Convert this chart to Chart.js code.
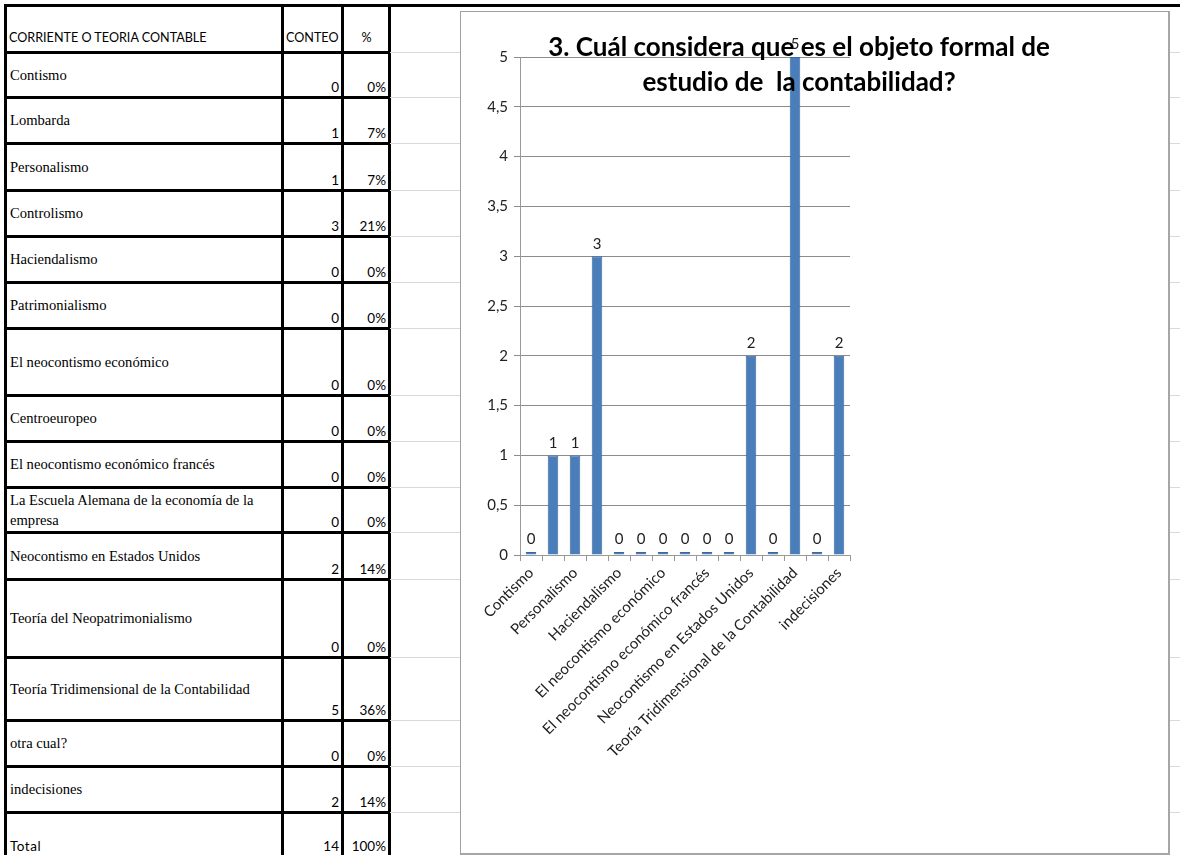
<!DOCTYPE html>
<html>
<head>
<meta charset="utf-8">
<script src="https://cdn.jsdelivr.net/npm/chart.js@4.4.1/dist/chart.umd.min.js"></script>
<style>
  body { margin: 0; width: 1180px; height: 855px; overflow: hidden; background: #fff; position: relative; font-family: Lato, sans-serif; }
  #topline { position: absolute; left: 4px; top: 4px; width: 1176px; height: 3px; background: #000; }
  .gl { position: absolute; left: 390px; width: 790px; height: 1px; background: #d9d9d9; }
  #sheet { position: absolute; left: 4px; top: 4px; width: 384px; border-collapse: collapse; table-layout: fixed; }
  #sheet td { border: 3px solid #000; padding: 0 2px 1px 3px; overflow: hidden; white-space: normal; }
  #sheet td.name { font-family: "Liberation Serif", serif; font-size: 14.6px; vertical-align: middle; line-height: 20px; }
  #sheet td.num { font-family: Lato, sans-serif; font-size: 13.5px; text-align: right; vertical-align: bottom; }
  #sheet td.head { font-family: Lato, sans-serif; font-size: 12.6px; vertical-align: bottom; padding: 0 1px 6px 2px; white-space: nowrap; }
  #sheet td.total { font-family: Lato, sans-serif; font-size: 13.5px; vertical-align: bottom; letter-spacing: 0.5px; }
  #sheet tr.last td { border-bottom: none; }
  #box { position: absolute; left: 460px; top: 11px; width: 707px; height: 841px; border: 1px solid #a0a0a0; border-right: 2px solid #a6a6a6; border-bottom: 2px solid #a6a6a6; background: #fff; }
  #title { position: absolute; left: 449px; top: 29px; width: 700px; text-align: center; font-family: Lato, sans-serif; font-weight: bold; font-size: 26px; line-height: 35px; color: #000; }
</style>
</head>
<body>
<div id="topline"></div>
<table id="sheet">
  <colgroup><col style="width:277px"><col style="width:60px"><col style="width:47px"></colgroup>
  <tbody id="sheet-body"></tbody>
</table>
<div id="box"><canvas id="chart" width="707" height="841"></canvas></div>
<div id="title">3. Cuál considera que es el objeto formal de<br>estudio de&nbsp; la contabilidad?</div>

<script>
// Table / chart data
const categories = [
  'Contismo', 'Lombarda', 'Personalismo', 'Controlismo', 'Haciendalismo',
  'Patrimonialismo', 'El neocontismo económico', 'Centroeuropeo',
  'El neocontismo económico francés', 'La Escuela Alemana de la economía de la empresa',
  'Neocontismo en Estados Unidos', 'Teoría del Neopatrimonialismo',
  'Teoría Tridimensional de la Contabilidad', 'otra cual?', 'indecisiones'
];
const counts = [0, 1, 1, 3, 0, 0, 0, 0, 0, 0, 2, 0, 5, 0, 2];
const percents = ['0%', '7%', '7%', '21%', '0%', '0%', '0%', '0%', '0%', '0%', '14%', '0%', '36%', '0%', '14%'];
const total = 14;
const totalPct = '100%';
const yTicks = [0, 0.5, 1, 1.5, 2, 2.5, 3, 3.5, 4, 4.5, 5];

// row heights of the spreadsheet (header, categories..., total)
const rowHeights = [47, 45, 46, 47, 46, 46, 46, 67, 46, 46, 45, 47, 78, 63, 46, 46, 42];

// Build the table
const tbody = document.getElementById('sheet-body');
let html = `<tr style="height:${rowHeights[0]}px"><td class="head">CORRIENTE O TEORIA CONTABLE</td><td class="head">CONTEO</td><td class="head" style="text-align:center">%</td></tr>`;
categories.forEach((c, i) => {
    html += `<tr style="height:${rowHeights[i + 1]}px"><td class="name">${c}</td><td class="num">${counts[i]}</td><td class="num">${percents[i]}</td></tr>`;
});
html += `<tr class="last" style="height:${rowHeights[16]}px"><td class="total">Total</td><td class="num">${total}</td><td class="num">${totalPct}</td></tr>`;
tbody.innerHTML = html;

// light spreadsheet gridlines at the row boundaries, behind the chart box
let y = 5;
rowHeights.slice(0, 16).forEach(h => {
    y += h;
    const line = document.createElement('div');
    line.className = 'gl';
    line.style.top = y + 'px';
    document.body.insertBefore(line, document.getElementById('box'));
});

// Draws the value above each bar
const valueLabels = {
    id: 'valueLabels',
    afterDatasetsDraw(chart) {
        const ctx = chart.ctx;
        const meta = chart.getDatasetMeta(0);
        ctx.save();
        ctx.font = '15px Lato, sans-serif';
        ctx.fillStyle = '#222';
        ctx.textAlign = 'center';
        ctx.textBaseline = 'bottom';
        meta.data.forEach((bar, i) => {
            ctx.fillText(counts[i], bar.x, bar.y - 5);
        });
        ctx.restore();
    }
};

const ctx = document.getElementById('chart').getContext('2d');
new Chart(ctx, {
    type: 'bar',
    data: {
        labels: categories,
        datasets: [{
            data: counts,
            backgroundColor: '#4a7ebb',
            borderColor: '#3a679e',
            borderWidth: 1,
            barPercentage: 0.48,
            categoryPercentage: 1,
            minBarLength: 3
        }]
    },
    options: {
        responsive: false,
        animation: false,
        layout: { padding: { left: 0, top: 45, right: 318, bottom: 0 } },
        plugins: {
            legend: { display: false },
            tooltip: { enabled: false }
        },
        scales: {
            x: {
                afterFit: (scale) => { scale.height = 298; },
                grid: { display: true, drawOnChartArea: false, offset: true, color: '#999', tickLength: 6 },
                border: { display: true, color: '#999' },
                ticks: {
                    autoSkip: false,
                    maxRotation: 45,
                    minRotation: 45,
                    color: '#222',
                    font: { family: 'Lato, sans-serif', size: 15 },
                    callback: function (v, i) { return i % 2 === 0 ? this.getLabelForValue(v) : ''; }
                }
            },
            y: {
                min: 0,
                max: 5,
                afterFit: (scale) => { scale.width = 59; },
                afterBuildTicks: (scale) => { scale.ticks = yTicks.map(v => ({ value: v })); },
                grid: { color: '#8c8c8c', tickLength: 6 },
                border: { display: true, color: '#999' },
                ticks: {
                    color: '#222',
                    padding: 6,
                    font: { family: 'Lato, sans-serif', size: 15 },
                    callback: (v) => String(v).replace('.', ',')
                }
            }
        }
    },
    plugins: [valueLabels]
});
</script>
</body>
</html>
